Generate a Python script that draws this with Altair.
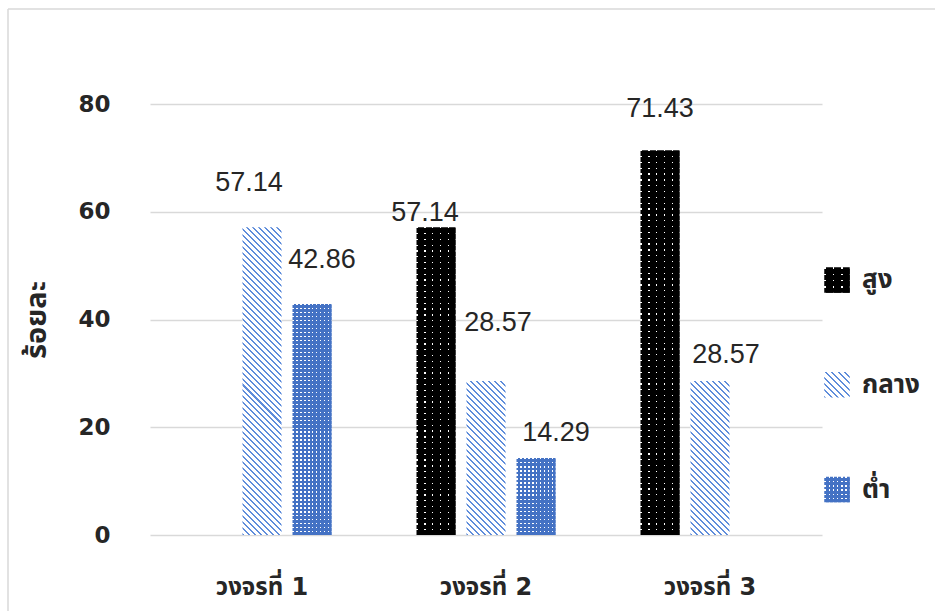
import altair as alt

# ---- data -------------------------------------------------------------
cycles = ["วงจรที่ 1", "วงจรที่ 2", "วงจรที่ 3"]
levels = ["สูง", "กลาง", "ต่ำ"]
high = [None, 57.14, 71.43]
mid = [57.14, 28.57, 28.57]
low = [42.86, 14.29, None]
y_ticks = [0, 20, 40, 60, 80]

# hand-placed data label nudges (dx, dy in px from the bar's top centre)
high_nudge = [None, (-11, -14), (0, -41)]
mid_nudge = [(-13, -44), (12, -58), (16, -26)]
low_nudge = [(10, -44), (20, -25), None]

# ---- layout -----------------------------------------------------------
PLOT_W, PLOT_H, Y_MAX = 672, 431, 80
OFF_PAD_IN, OFF_PAD_OUT = 0.22, 0.85
step = PLOT_W / len(cycles)
bar_w = step / (len(levels) - OFF_PAD_IN + 2 * OFF_PAD_OUT) * (1 - OFF_PAD_IN)

FONT = "Liberation Sans, Noto Sans Thai, Tahoma, DejaVu Sans, sans-serif"
BOLD_FONT = "DejaVu Sans, Noto Sans Thai, Tahoma, sans-serif"
INK = "#262626"
GRID = "#d9d9d9"
BLUE = "#4472C4"
CLEAR = "rgba(0,0,0,0)"


# ---- fill patterns built from linear gradients ------------------------
_pid = [0]


def new_id():
    _pid[0] += 1
    return "fillpat%d" % _pid[0]


def banded(n, frac, on, off):
    stops = []
    for k in range(n):
        a, b, c = k / n, (k + frac) / n, (k + 1) / n
        stops += [
            {"offset": round(a, 5), "color": on},
            {"offset": round(b, 5), "color": on},
            {"offset": round(b, 5), "color": off},
            {"offset": round(c, 5), "color": off},
        ]
    return stops


def rows(h, period, dot, bg):
    n = max(1, round(h / period))
    return {"id": new_id(), "gradient": "linear", "x1": 0.5, "y1": 0, "x2": 0.5, "y2": 1,
            "stops": banded(n, dot / (h / n), "#ffffff", bg)}


def columns(w, period, dot, bg):
    n = max(1, round(w / period))
    return {"id": new_id(), "gradient": "linear", "x1": 0, "y1": 0.5, "x2": 1, "y2": 0.5,
            "stops": banded(n, dot / (w / n), CLEAR, bg)}


def diagonal(w, h, period, width, line, bg):
    r = h / w
    s = (1 + r) / (1 + r * r)
    n = max(1, round((w + h) / period))
    return {"id": new_id(), "gradient": "linear", "x1": 0, "y1": 1, "x2": round(s, 6),
            "y2": round(1 - s * r, 6),
            "stops": banded(n, width / ((w + h) / n), line, bg)}


STYLE = {
    "สูง": dict(kind="dots", bg="#000000", rp=5.8, cp=8.0, dot=1.25),
    "กลาง": dict(kind="hatch", bg="#ffffff", line="#5f8ddb", p=6.0, lw=2.0),
    "ต่ำ": dict(kind="dots", bg=BLUE, rp=4.0, cp=4.0, dot=1.4),
}


def fills(level, w, h):
    st = STYLE[level]
    if st["kind"] == "dots":
        return rows(h, st["rp"], st["dot"], st["bg"]), columns(w, st["cp"], st["dot"], st["bg"])
    return diagonal(w, h, st["p"], st["lw"], st["line"], st["bg"]), None


records = []
for level, vals, nudges in zip(levels, [high, mid, low], [high_nudge, mid_nudge, low_nudge]):
    for cyc, v, nd in zip(cycles, vals, nudges):
        if v is None:
            continue
        base, over = fills(level, bar_w, v / Y_MAX * PLOT_H)
        records.append({
            "cycle": cyc, "level": level, "value": v,
            "base_fill": base, "over_fill": over,
            "kind": STYLE[level]["kind"],
            "ldx": nd[0], "ldy": nd[1],
        })

data = alt.Data(values=records)

x_enc = alt.X("cycle:N", sort=cycles,
              scale=alt.Scale(domain=cycles, paddingInner=0, paddingOuter=0),
              axis=alt.Axis(title=None, labelFont=BOLD_FONT, labelFontSize=24,
                            labelFontWeight="bold", labelColor=INK, labelPadding=40,
                            ticks=False, domain=False, labelAngle=0))
xo_enc = alt.XOffset("level:N", sort=levels,
                     scale=alt.Scale(domain=levels, paddingInner=OFF_PAD_IN,
                                     paddingOuter=OFF_PAD_OUT))
y_enc = alt.Y("value:Q", stack=None,
              scale=alt.Scale(domain=[0, Y_MAX], nice=False),
              axis=alt.Axis(title="ร้อยละ", values=y_ticks, grid=True, gridColor=GRID,
                            gridWidth=1.4, ticks=False, domain=False,
                            labelFont=BOLD_FONT, labelFontSize=23, labelFontWeight="bold",
                            labelColor=INK, labelPadding=40,
                            titleFont=BOLD_FONT, titleFontSize=29, titleFontWeight="bold",
                            titleColor=INK, titleX=-114, titleY=PLOT_H / 2,
                            titleAngle=270, titleAlign="center",
                            titleBaseline="middle"))

bars = alt.Chart(data).mark_bar().encode(
    x=x_enc, xOffset=xo_enc, y=y_enc,
    fill=alt.Fill("base_fill:N", scale=None),
)

dots_over = alt.Chart(data).mark_bar().encode(
    x=x_enc, xOffset=xo_enc, y=y_enc,
    fill=alt.Fill("over_fill:N", scale=None),
).transform_filter("datum.kind == 'dots'")

labels = alt.Chart(data).mark_text(
    font=FONT, fontSize=27, color=INK, baseline="middle", align="center",
    dx={"expr": "datum.ldx"}, dy={"expr": "datum.ldy"},
).encode(
    x=x_enc, xOffset=xo_enc, y=y_enc,
    text=alt.Text("value:Q", format=".2f"),
)

# thin frame along the top and left edges of the chart area
frame_src = alt.Data(values=[{}])
frame_top = alt.Chart(frame_src).mark_rule(color=GRID, strokeWidth=1.5).encode(
    x=alt.value(-142), x2=alt.value(785), y=alt.value(-95))
frame_left = alt.Chart(frame_src).mark_rule(color=GRID, strokeWidth=1.5).encode(
    x=alt.value(-142), y=alt.value(-95), y2=alt.value(507))

main = alt.layer(frame_top, frame_left, bars, dots_over, labels).properties(
    width=PLOT_W, height=PLOT_H)

# ---- legend panel -----------------------------------------------------
SW = 25.5
leg_records = []
for level in levels:
    base, over = fills(level, SW, SW)
    leg_records.append({"level": level, "base_fill": base, "over_fill": over,
                        "kind": STYLE[level]["kind"]})
leg_data = alt.Data(values=leg_records)
leg_y = alt.Y("level:N", sort=levels,
              scale=alt.Scale(type="point", domain=levels, range=[176, 385.5], padding=0),
              axis=None)

leg_base = alt.Chart(leg_data).mark_square(size=SW * SW, opacity=1).encode(
    x=alt.value(15), y=leg_y, fill=alt.Fill("base_fill:N", scale=None))
leg_over = alt.Chart(leg_data).mark_square(size=SW * SW, opacity=1).encode(
    x=alt.value(15), y=leg_y, fill=alt.Fill("over_fill:N", scale=None),
).transform_filter("datum.kind == 'dots'")
leg_text = alt.Chart(leg_data).mark_text(
    font=BOLD_FONT, fontSize=26, fontWeight="bold", color=INK, align="left",
    baseline="middle").encode(x=alt.value(40), y=leg_y, text="level:N")

legend = alt.layer(leg_base, leg_over, leg_text).properties(width=110, height=PLOT_H)

chart = alt.hconcat(main, legend, spacing=0, bounds="flush").properties(
    padding={"left": 7, "top": 8, "right": 0, "bottom": 0},
    autosize=alt.AutoSizeParams(type="pad"),
    background="white",
).configure_view(stroke=None)

chart.save("out.html", embed_options={"renderer": "svg", "actions": False})
